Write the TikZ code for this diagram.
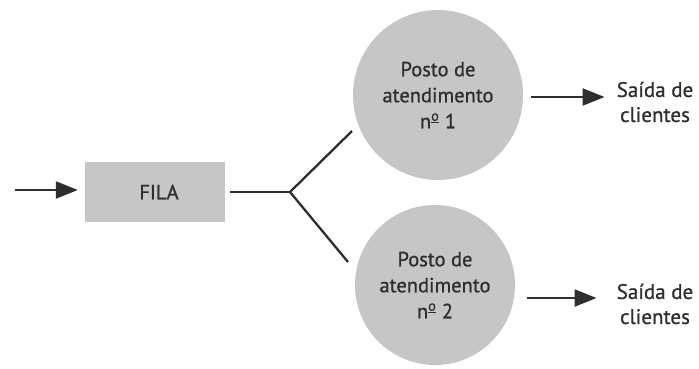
\documentclass[tikz,border=0pt]{standalone}
\usepackage{fontspec}
\setmainfont{PT Sans}[FakeBold=0.9]
\usetikzlibrary{arrows.meta,calc}
\definecolor{shade}{HTML}{C6C6C6}
\definecolor{ink}{HTML}{2E2E2E}
\tikzset{
  disc/.style={circle, fill=shade, minimum size=#1, inner sep=0pt, align=center, text=ink,
               font=\fontsize{20.5}{26}\selectfont},
  box/.style={rectangle, fill=shade, minimum width=140pt, minimum height=60pt, text=ink,
              font=\fontsize{20.5}{26}\selectfont},
  lbl/.style={align=center, text=ink, font=\fontsize{21}{25}\selectfont, inner sep=0pt},
  conn/.style={draw=ink, line width=2.3pt},
  arr/.style={conn, -{Triangle[length=22pt,width=17pt]}}
}
\begin{document}
\begin{tikzpicture}[x=1pt,y=-1pt]
\fill[white] (0,0) rectangle (699,368);
\useasboundingbox (0,0) rectangle (699,368);
\node[box] (fila) at (155,192) {\hspace{8pt}FILA};
\node[disc=170pt] (p1) at (438,95) {Posto de\\atendimento\\n\textsuperscript{\underline{o}} 1};
\node[disc=160pt] (p2) at (435,285) {Posto de\\atendimento\\n\textsuperscript{\underline{o}} 2};
\node[lbl] (s1) at (655,102) {Saída de\\clientes};
\node[lbl] (s2) at (655,304) {Saída de\\clientes};
\coordinate (in) at (15,190);
\coordinate (j) at (290,192);
\coordinate (u1) at (352,131);
\coordinate (u2) at (348,262);
\draw[arr] (in) -- ([xshift=-7pt]fila.west |- in);
\draw[conn] ([xshift=5pt]fila.east |- j) -- (j);
\draw[conn] (u1) -- (j) -- (u2);
\draw[arr] ([xshift=8pt]p1.east |- 0,97) -- ([xshift=-12pt]s1.west |- 0,97);
\draw[arr] ([xshift=12pt]p2.east |- 0,298) -- ([xshift=-20pt]s2.west |- 0,298);
\end{tikzpicture}
\end{document}
